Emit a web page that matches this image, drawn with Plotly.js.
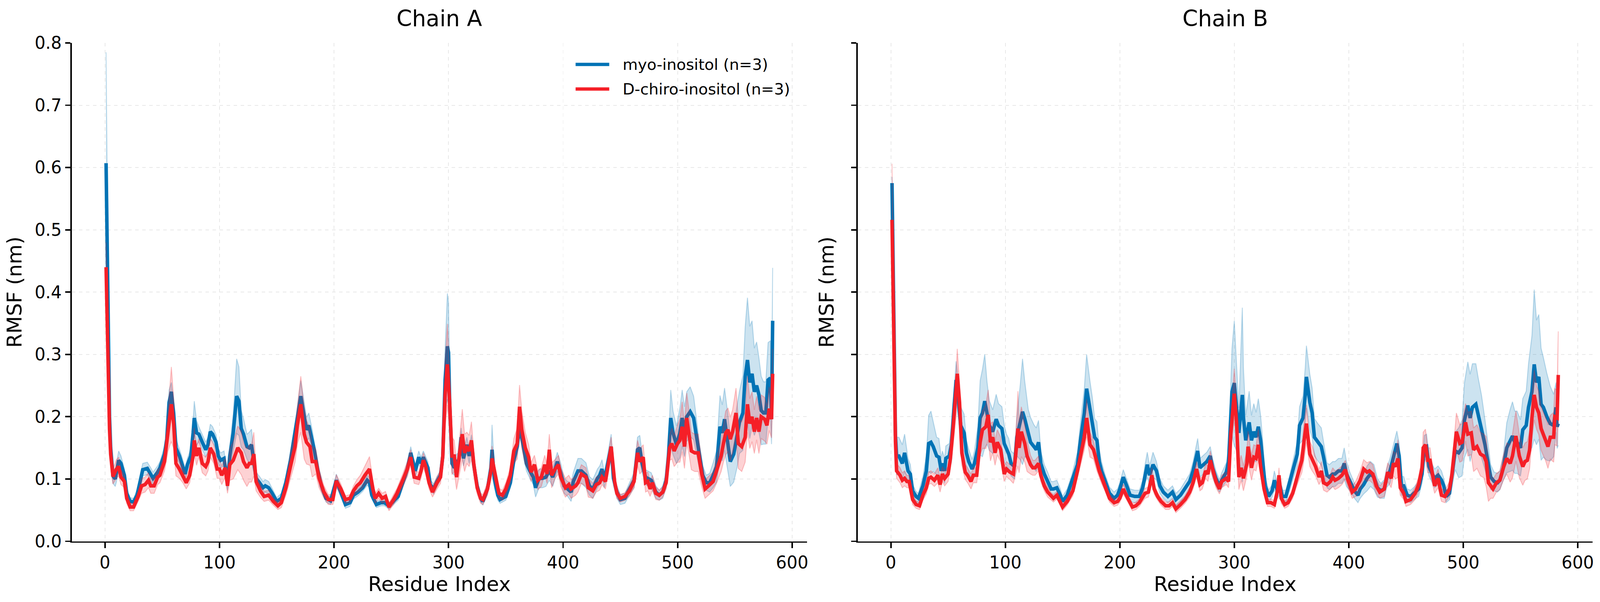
<!DOCTYPE html>
<html>
<head>
<meta charset="utf-8">
<script src="https://cdn.plot.ly/plotly-3.0.1.min.js"></script>
<style>
  html, body { margin: 0; padding: 0; background: #fff; overflow: hidden; }
  #chart { width: 100vw; height: 100vh; }
</style>
</head>
<body>
<div id="chart"></div>
<script>
// RMSF per residue, mean of 3 runs, with +/- spread

const residueTicks = [0, 100, 200, 300, 400, 500, 600];
const rmsfTicks = [0, 0.1, 0.2, 0.3, 0.4, 0.5, 0.6, 0.7, 0.8];

// ---- Chain A, myo-inositol
const aMyoX = [
    1,2,3,4,5,6,7,9,10,12,
    14,17,19,22,25,28,31,33,37,40,
    42,46,48,52,54,56,58,60,62,65,
    67,70,72,75,77,78,80,82,85,88,
    90,92,94,97,99,101,104,107,109,112,
    115,117,119,121,124,126,128,130,132,135,
    138,140,143,146,150,154,158,162,166,169,
    171,173,176,178,181,183,186,189,193,197,
    202,206,210,214,217,221,225,229,231,233,
    237,241,244,248,252,256,260,264,267,269,
    271,274,276,278,282,284,287,290,293,295,
    297,299,300,301,303,305,307,309,311,313,
    316,318,320,322,325,328,330,334,337,338,
    340,343,345,350,354,357,360,362,364,366,
    368,371,374,376,379,382,385,388,391,395,
    398,401,404,407,409,413,416,420,423,426,
    430,432,434,436,439,442,444,447,450,454,
    458,462,465,467,469,472,474,477,481,484,
    487,490,492,494,496,499,502,504,506,508,
    511,514,516,519,522,525,528,531,534,537,
    539,541,544,546,549,552,554,557,559,561,
    563,565,567,569,571,573,575,577,579,581,
    582,583
];
const aMyoY = [
    .607,.45,.30,.20,.15,.125,.105,.10,.11,.13,
    .125,.106,.077,.064,.063,.074,.098,.115,.117,.108,
    .101,.111,.118,.14,.164,.223,.24,.206,.15,.137,
    .125,.108,.123,.137,.174,.198,.174,.172,.159,.147,
    .155,.176,.172,.159,.137,.13,.133,.094,.137,.174,
    .233,.225,.181,.172,.152,.15,.155,.125,.101,.094,
    .086,.089,.086,.077,.064,.069,.094,.13,.172,.21,
    .233,.21,.179,.186,.164,.145,.113,.089,.069,.065,
    .098,.079,.059,.062,.074,.079,.086,.098,.094,.074,
    .059,.062,.062,.057,.064,.072,.094,.116,.142,.125,
    .113,.135,.125,.135,.118,.091,.084,.096,.106,.137,
    .259,.313,.303,.223,.125,.118,.128,.13,.167,.133,
    .155,.137,.159,.123,.089,.069,.064,.084,.118,.147,
    .101,.074,.067,.072,.094,.13,.152,.186,.167,.142,
    .125,.113,.103,.086,.101,.101,.103,.113,.103,.128,
    .11,.089,.084,.079,.096,.113,.113,.106,.089,.084,
    .101,.106,.116,.098,.125,.152,.101,.079,.067,.069,
    .084,.098,.147,.15,.125,.103,.101,.098,.079,.074,
    .079,.098,.137,.198,.174,.155,.174,.198,.176,.2,
    .208,.198,.174,.137,.106,.094,.094,.106,.12,.184,
    .174,.196,.157,.128,.14,.169,.191,.206,.264,.291,
    .255,.269,.24,.25,.235,.21,.206,.206,.259,.262,
    .196,.354
];
const aMyoSd = [
    .178,.12,.06,.03,.02,.015,.012,.012,.015,.015,
    .012,.01,.008,.006,.006,.008,.01,.01,.01,.01,
    .01,.01,.01,.012,.015,.02,.015,.015,.015,.012,
    .012,.01,.01,.012,.02,.027,.02,.012,.012,.012,
    .012,.012,.012,.012,.012,.012,.012,.012,.015,.03,
    .06,.055,.03,.025,.02,.025,.025,.015,.01,.01,
    .01,.01,.01,.008,.006,.008,.01,.012,.015,.02,
    .025,.025,.02,.02,.015,.012,.01,.008,.006,.006,
    .01,.008,.006,.006,.006,.006,.006,.008,.008,.006,
    .005,.005,.005,.005,.005,.006,.008,.01,.01,.01,
    .01,.01,.01,.01,.01,.008,.008,.008,.008,.01,
    .05,.085,.08,.04,.015,.012,.012,.012,.015,.012,
    .012,.012,.012,.01,.008,.006,.006,.008,.012,.04,
    .015,.008,.006,.006,.008,.01,.012,.015,.012,.012,
    .012,.012,.012,.015,.015,.015,.015,.015,.015,.015,
    .015,.012,.012,.015,.015,.02,.02,.02,.015,.015,
    .015,.015,.015,.012,.015,.02,.012,.01,.008,.008,
    .01,.012,.02,.02,.015,.012,.012,.012,.01,.008,
    .01,.012,.02,.045,.035,.03,.04,.045,.04,.04,
    .04,.035,.03,.02,.015,.012,.015,.02,.025,.05,
    .045,.05,.045,.04,.045,.05,.05,.06,.08,.1,
    .09,.085,.07,.07,.06,.055,.05,.05,.06,.06,
    .04,.085
];

// ---- Chain A, D-chiro-inositol
const aChiroX = [
    1,2,3,4,5,6,7,10,12,14,
    17,19,22,25,29,32,35,38,40,43,
    46,48,52,55,57,58,60,62,65,68,
    71,74,77,78,80,82,85,88,90,92,
    95,98,100,102,105,107,109,112,116,119,
    121,124,126,128,130,132,136,139,143,147,
    151,154,158,162,166,168,171,174,176,179,
    181,184,187,191,195,199,202,206,210,214,
    217,220,223,227,231,234,236,239,242,245,
    248,252,255,260,264,267,270,274,276,278,
    280,283,286,290,293,295,297,299,301,303,
    305,307,310,312,314,316,318,320,322,325,
    328,330,334,337,338,341,344,347,350,354,
    357,360,362,364,367,370,372,375,378,381,
    384,386,388,390,393,396,398,402,405,407,
    411,413,416,420,422,426,429,432,434,437,
    440,442,445,447,450,454,458,462,465,467,
    470,472,474,476,478,481,484,487,490,493,
    495,497,500,502,504,506,508,510,512,515,
    518,521,524,527,531,534,538,540,542,544,
    546,548,551,553,556,559,561,563,565,567,
    569,571,573,576,578,580,582,583
];
const aChiroY = [
    .44,.35,.25,.18,.14,.115,.104,.116,.12,.103,
    .096,.069,.055,.055,.072,.089,.091,.098,.089,.089,
    .103,.106,.128,.174,.206,.22,.189,.125,.116,.106,
    .094,.106,.137,.162,.137,.15,.125,.12,.128,.15,
    .14,.116,.116,.106,.118,.089,.123,.13,.15,.142,
    .128,.118,.125,.125,.14,.096,.08,.072,.074,.064,
    .057,.062,.086,.12,.152,.186,.22,.172,.159,.152,
    .128,.128,.101,.08,.067,.067,.097,.084,.067,.069,
    .081,.089,.094,.106,.116,.084,.069,.077,.069,.072,
    .055,.067,.077,.098,.116,.135,.103,.101,.113,.13,
    .12,.094,.079,.094,.103,.137,.235,.284,.223,.137,
    .137,.103,.142,.172,.142,.15,.145,.162,.125,.086,
    .069,.067,.084,.113,.133,.101,.077,.074,.084,.106,
    .145,.157,.216,.179,.15,.135,.111,.123,.098,.103,
    .123,.108,.147,.106,.116,.123,.103,.086,.091,.084,
    .089,.094,.108,.103,.086,.081,.091,.094,.103,.096,
    .13,.152,.096,.077,.069,.072,.081,.096,.142,.128,
    .135,.094,.096,.084,.094,.077,.074,.079,.094,.15,
    .157,.145,.157,.162,.184,.152,.198,.174,.145,.142,
    .142,.108,.084,.089,.096,.113,.137,.157,.174,.179,
    .164,.176,.206,.157,.152,.167,.22,.189,.2,.176,
    .198,.176,.2,.196,.186,.213,.196,.269
];
const aChiroSd = [
    .04,.03,.02,.015,.012,.012,.012,.015,.015,.012,
    .01,.008,.006,.006,.008,.012,.012,.012,.012,.012,
    .012,.012,.015,.03,.05,.06,.04,.02,.015,.012,
    .01,.012,.015,.02,.015,.015,.015,.015,.015,.015,
    .015,.015,.015,.015,.015,.012,.025,.03,.035,.035,
    .03,.03,.03,.03,.035,.015,.01,.008,.008,.006,
    .006,.008,.012,.02,.025,.03,.045,.04,.035,.03,
    .025,.02,.015,.01,.008,.008,.01,.008,.006,.006,
    .008,.01,.012,.015,.02,.012,.008,.008,.008,.008,
    .006,.008,.008,.01,.012,.012,.01,.01,.012,.012,
    .012,.01,.008,.01,.01,.015,.05,.065,.05,.03,
    .025,.02,.03,.04,.03,.025,.025,.03,.02,.01,
    .008,.008,.01,.015,.02,.012,.008,.008,.01,.012,
    .02,.025,.035,.03,.025,.02,.015,.015,.015,.015,
    .015,.015,.025,.02,.015,.015,.015,.015,.015,.015,
    .015,.015,.015,.015,.015,.012,.012,.012,.012,.012,
    .015,.015,.012,.008,.006,.006,.008,.01,.02,.02,
    .02,.015,.015,.012,.012,.01,.008,.008,.01,.02,
    .025,.025,.03,.035,.04,.035,.04,.035,.03,.03,
    .03,.02,.015,.015,.015,.02,.025,.03,.035,.035,
    .035,.035,.04,.04,.04,.04,.045,.04,.04,.035,
    .035,.035,.035,.035,.03,.035,.03,.04
];

// ---- Chain B, myo-inositol
const bMyoX = [
    1,2,3,4,5,7,10,12,15,17,
    19,22,24,28,31,33,35,37,40,42,
    44,45,47,48,51,53,55,57,59,61,
    64,66,68,71,73,76,78,80,82,84,
    86,89,92,94,97,99,101,103,105,108,
    110,113,115,117,120,122,125,127,129,131,
    134,137,140,142,145,148,150,154,158,163,
    166,169,171,174,176,178,180,182,184,187,
    191,195,198,200,203,206,209,213,217,220,
    222,224,226,229,232,235,238,242,246,249,
    253,257,261,264,268,270,273,276,279,281,
    284,287,289,293,295,298,300,302,304,307,
    308,310,313,315,317,319,321,323,325,327,
    330,333,335,338,340,342,345,348,351,355,
    357,360,362,363,366,368,370,373,376,378,
    381,383,386,388,391,394,396,398,401,405,
    408,410,413,416,419,422,425,428,431,433,
    436,439,442,444,446,448,451,454,457,461,
    464,466,468,470,473,475,478,481,483,485,
    488,490,493,496,499,501,504,506,508,511,
    513,516,519,522,524,527,530,532,535,538,
    541,543,545,547,550,552,555,557,560,562,
    564,566,568,570,573,576,579,581,582,583
];
const bMyoY = [
    .575,.42,.27,.17,.137,.137,.125,.142,.113,.108,
    .081,.072,.069,.089,.113,.157,.159,.152,.137,.135,
    .113,.125,.113,.133,.137,.157,.211,.259,.227,.186,
    .174,.142,.128,.116,.125,.15,.198,.206,.225,.206,
    .186,.176,.196,.186,.181,.157,.147,.14,.125,.12,
    .167,.191,.208,.196,.172,.159,.152,.147,.159,.125,
    .108,.096,.084,.084,.086,.074,.064,.074,.094,.123,
    .167,.206,.245,.211,.196,.167,.162,.128,.113,.096,
    .077,.069,.074,.084,.103,.089,.074,.072,.072,.086,
    .108,.123,.106,.123,.113,.089,.079,.072,.079,.067,
    .074,.084,.096,.113,.145,.118,.123,.128,.137,.118,
    .101,.089,.098,.111,.128,.24,.254,.215,.174,.235,
    .198,.162,.191,.162,.176,.167,.184,.162,.128,.089,
    .072,.081,.098,.079,.089,.072,.072,.091,.113,.14,
    .186,.198,.235,.264,.223,.206,.167,.159,.152,.135,
    .106,.103,.108,.108,.113,.113,.125,.108,.096,.081,
    .074,.084,.091,.101,.108,.103,.086,.081,.084,.101,
    .113,.135,.157,.137,.089,.089,.074,.072,.077,.084,
    .108,.15,.152,.12,.108,.101,.106,.098,.089,.072,
    .077,.101,.145,.142,.15,.194,.218,.198,.215,.22,
    .203,.184,.155,.123,.103,.096,.094,.098,.118,.15,
    .162,.169,.159,.159,.15,.179,.186,.215,.24,.284,
    .255,.264,.22,.215,.2,.189,.186,.215,.184,.189
];
const bMyoSd = [
    .01,.01,.01,.02,.03,.03,.03,.03,.02,.015,
    .01,.008,.008,.015,.025,.045,.05,.04,.03,.03,
    .02,.02,.02,.02,.02,.03,.03,.03,.03,.03,
    .03,.02,.02,.015,.02,.035,.06,.07,.075,.05,
    .04,.035,.04,.035,.035,.03,.025,.025,.02,.02,
    .03,.06,.085,.06,.04,.04,.035,.035,.035,.02,
    .015,.015,.012,.012,.012,.01,.008,.01,.012,.02,
    .03,.04,.055,.045,.035,.03,.03,.02,.015,.012,
    .01,.01,.01,.01,.012,.01,.01,.01,.01,.012,
    .015,.02,.015,.02,.015,.012,.01,.01,.01,.01,
    .01,.012,.012,.015,.02,.015,.015,.015,.015,.015,
    .012,.01,.012,.015,.02,.07,.1,.07,.04,.14,
    .08,.04,.05,.04,.045,.04,.045,.04,.03,.015,
    .01,.01,.015,.01,.012,.01,.01,.012,.015,.02,
    .03,.035,.045,.05,.045,.04,.03,.03,.03,.025,
    .02,.02,.02,.02,.02,.02,.025,.02,.015,.012,
    .012,.015,.015,.02,.02,.02,.015,.012,.015,.015,
    .02,.02,.02,.02,.015,.015,.01,.01,.01,.012,
    .015,.02,.02,.015,.015,.015,.015,.015,.012,.01,
    .01,.015,.03,.04,.045,.06,.07,.07,.07,.065,
    .06,.05,.04,.03,.02,.015,.015,.015,.02,.04,
    .05,.055,.05,.05,.045,.05,.055,.07,.09,.12,
    .1,.1,.09,.08,.07,.06,.05,.04,.035,.035
];

// ---- Chain B, D-chiro-inositol
const bChiroX = [
    1,2,3,4,5,8,10,12,14,16,
    19,22,25,28,31,33,35,38,41,43,
    45,47,50,52,54,57,58,60,62,65,
    67,70,72,75,78,80,83,85,87,89,
    91,93,96,99,101,104,107,109,111,112,
    114,117,119,122,124,126,129,131,134,137,
    140,142,145,148,150,154,159,163,166,169,
    171,174,177,180,182,184,187,191,195,198,
    200,203,207,211,214,217,222,225,228,230,
    233,236,240,243,246,249,253,257,261,264,
    267,270,272,275,277,279,281,284,287,289,
    293,295,297,300,302,304,306,308,311,312,
    315,317,319,321,323,326,329,332,335,338,
    339,341,344,347,351,354,357,359,361,363,
    366,368,371,374,376,378,381,384,386,388,
    391,394,397,399,403,406,410,413,416,418,
    421,424,427,431,434,437,439,441,443,445,
    448,450,454,458,461,464,465,467,469,471,
    473,475,478,481,484,488,490,492,494,497,
    499,502,504,507,509,512,515,518,520,522,
    524,526,529,532,535,538,541,543,546,549,
    552,554,556,558,560,562,564,566,568,570,
    572,574,576,579,580,582,583
];
const bChiroY = [
    .516,.38,.25,.16,.113,.106,.098,.101,.096,.096,
    .067,.059,.057,.074,.086,.101,.103,.098,.106,.091,
    .108,.101,.108,.133,.174,.235,.269,.223,.142,.111,
    .106,.096,.106,.106,.159,.179,.184,.203,.159,.167,
    .142,.159,.147,.108,.116,.111,.108,.137,.181,.15,
    .176,.157,.137,.123,.118,.118,.125,.106,.089,.079,
    .072,.069,.074,.064,.055,.064,.081,.113,.14,.167,
    .198,.155,.147,.125,.113,.103,.089,.069,.062,.064,
    .069,.084,.069,.055,.057,.062,.077,.079,.106,.084,
    .072,.064,.057,.057,.062,.052,.059,.067,.079,.094,
    .116,.091,.094,.113,.108,.13,.116,.096,.084,.096,
    .101,.096,.174,.237,.191,.103,.118,.101,.125,.152,
    .118,.135,.133,.155,.12,.084,.062,.062,.059,.084,
    .106,.069,.059,.062,.077,.096,.116,.13,.162,.189,
    .14,.133,.12,.103,.113,.094,.091,.096,.103,.098,
    .101,.106,.115,.1,.079,.084,.098,.116,.111,.113,
    .108,.089,.079,.084,.111,.101,.125,.12,.133,.086,
    .077,.064,.067,.077,.091,.118,.15,.155,.13,.13,
    .108,.089,.101,.074,.072,.084,.106,.137,.176,.157,
    .159,.191,.172,.174,.147,.152,.14,.137,.128,.094,
    .089,.084,.094,.098,.118,.133,.125,.137,.169,.137,
    .12,.128,.13,.147,.198,.235,.215,.206,.181,.172,
    .164,.152,.167,.167,.2,.198,.267
];
const bChiroSd = [
    .09,.06,.04,.02,.012,.012,.012,.012,.01,.01,
    .008,.006,.006,.008,.01,.01,.01,.01,.012,.012,
    .012,.012,.012,.015,.025,.035,.04,.03,.02,.012,
    .012,.012,.012,.012,.02,.03,.035,.04,.03,.025,
    .02,.02,.02,.012,.012,.012,.015,.03,.06,.04,
    .04,.03,.025,.015,.012,.012,.012,.01,.008,.008,
    .006,.006,.006,.006,.006,.006,.008,.01,.015,.02,
    .03,.02,.015,.012,.01,.01,.008,.006,.006,.006,
    .006,.008,.006,.006,.006,.006,.008,.008,.012,.008,
    .006,.006,.006,.006,.006,.006,.006,.006,.008,.01,
    .012,.01,.01,.012,.012,.015,.012,.01,.008,.01,
    .01,.01,.025,.04,.03,.02,.02,.02,.02,.025,
    .02,.02,.02,.025,.015,.01,.006,.006,.006,.01,
    .012,.008,.006,.006,.008,.01,.015,.02,.03,.03,
    .02,.02,.015,.012,.015,.012,.012,.012,.015,.015,
    .015,.015,.015,.012,.01,.012,.015,.015,.015,.015,
    .015,.012,.01,.012,.015,.015,.02,.02,.03,.012,
    .01,.008,.008,.01,.012,.015,.025,.025,.02,.02,
    .015,.012,.015,.01,.01,.012,.015,.025,.03,.03,
    .03,.03,.035,.035,.035,.035,.035,.035,.04,.03,
    .02,.015,.015,.015,.02,.025,.03,.035,.04,.035,
    .03,.03,.03,.03,.035,.04,.035,.035,.035,.035,
    .035,.035,.035,.04,.045,.045,.07
];

const myoColor = '#0173B5';
const chiroColor = '#F51F27';
const myoBand = 'rgba(1,115,181,0.2)';
const myoEdge = 'rgba(1,115,181,0.25)';
const chiroBand = 'rgba(245,31,39,0.2)';
const chiroEdge = 'rgba(245,31,39,0.25)';

// reference size; the page follows the real window and scales pixel sizes to it
const REF_W = 4328, REF_H = 1542;
const W = window.innerWidth || REF_W;
const H = window.innerHeight || REF_H;
const S = W / REF_W;
const px = v => v * S;
const fontFam = '"DejaVu Sans", "Liberation Sans", sans-serif';

function seriesTraces(x, y, sd, color, band, edge, xa, ya) {
    if (x.length !== y.length || x.length !== sd.length) {
        console.log('length mismatch', x.length, y.length, sd.length);
    }
    let lower = y.map((v, i) => Math.max(v - sd[i], 0));
    let upper = y.map((v, i) => v + sd[i]);
    return [
        { x: x, y: lower, xaxis: xa, yaxis: ya, type: 'scatter', mode: 'lines',
          line: { color: edge, width: px(2.5) }, hoverinfo: 'skip', showlegend: false },
        { x: x, y: upper, xaxis: xa, yaxis: ya, type: 'scatter', mode: 'lines',
          fill: 'tonexty', fillcolor: band,
          line: { color: edge, width: px(2.5) }, hoverinfo: 'skip', showlegend: false },
        { x: x, y: y, xaxis: xa, yaxis: ya, type: 'scatter', mode: 'lines',
          line: { color: color, width: px(9.5) }, showlegend: false }
    ];
}

let data = [].concat(
    seriesTraces(aMyoX, aMyoY, aMyoSd, myoColor, myoBand, myoEdge, 'x', 'y'),
    seriesTraces(aChiroX, aChiroY, aChiroSd, chiroColor, chiroBand, chiroEdge, 'x', 'y'),
    seriesTraces(bMyoX, bMyoY, bMyoSd, myoColor, myoBand, myoEdge, 'x2', 'y2'),
    seriesTraces(bChiroX, bChiroY, bChiroSd, chiroColor, chiroBand, chiroEdge, 'x2', 'y2')
);

// plot boxes in reference pixels
const boxA = [194, 2183];
const boxB = [2320, 4308];
const plotTop = 110, plotBottom = 1386.5;

function xAxis(box, anchor) {
    return {
        domain: [box[0] / REF_W, box[1] / REF_W],
        anchor: anchor,
        range: [-29, 613],
        tickvals: residueTicks,
        ticks: 'outside', ticklen: px(14), tickwidth: px(4), tickcolor: '#000',
        showline: true, linewidth: px(4), linecolor: '#000',
        showgrid: true, gridcolor: '#e8e8e8', gridwidth: px(2), griddash: 'dash',
        zeroline: false,
        tickfont: { family: fontFam, size: px(46), color: '#000' },
        title: { text: 'Residue Index', standoff: px(14),
                 font: { family: fontFam, size: px(55), color: '#000' } }
    };
}

function yAxis(anchor, labels) {
    return {
        domain: [1 - plotBottom / REF_H, 1 - plotTop / REF_H],
        anchor: anchor,
        range: [0, 0.8],
        tickvals: rmsfTicks,
        tickformat: '.1f',
        showticklabels: labels,
        ticks: 'outside', ticklen: px(14), tickwidth: px(4), tickcolor: '#000',
        showline: true, linewidth: px(4), linecolor: '#000',
        showgrid: true, gridcolor: '#e8e8e8', gridwidth: px(2), griddash: 'dash',
        zeroline: false,
        tickfont: { family: fontFam, size: px(46), color: '#000' },
        title: { text: 'RMSF (nm)', standoff: px(labels ? 18 : 30),
                 font: { family: fontFam, size: px(55), color: '#000' } }
    };
}

// legend drawn by hand so the line samples get the reference length
const legendItems = [
    { label: 'myo-inositol (n=3)', color: myoColor, py: 165 },
    { label: 'D-chiro-inositol (n=3)', color: chiroColor, py: 228 }
];
let shapes = legendItems.map(it => ({
    type: 'line', xref: 'paper', yref: 'paper',
    x0: 1557 / REF_W, x1: 1648 / REF_W, y0: 1 - it.py / REF_H, y1: 1 - it.py / REF_H,
    line: { color: it.color, width: px(9) }
}));
let annotations = legendItems.map(it => ({
    xref: 'paper', yref: 'paper', x: 1682 / REF_W, y: 1 - it.py / REF_H,
    xanchor: 'left', yanchor: 'middle', showarrow: false,
    text: it.label, font: { family: fontFam, size: px(42), color: '#000' }
}));
[['Chain A', boxA], ['Chain B', boxB]].forEach(function (t) {
    annotations.push({
        xref: 'paper', yref: 'paper',
        x: (t[1][0] + t[1][1]) / 2 / REF_W, y: 1 - 47 / REF_H,
        xanchor: 'center', yanchor: 'middle', showarrow: false,
        text: t[0], font: { family: fontFam, size: px(60), color: '#000' }
    });
});

let layout = {
    width: W, height: H,
    margin: { l: 0, r: 0, t: 0, b: 0 },
    paper_bgcolor: '#fff', plot_bgcolor: '#fff',
    showlegend: false,
    xaxis: xAxis(boxA, 'y'),
    yaxis: yAxis('x', true),
    xaxis2: xAxis(boxB, 'y2'),
    yaxis2: Object.assign(yAxis('x2', false), { matches: 'y' }),
    shapes: shapes,
    annotations: annotations
};

Plotly.newPlot('chart', data, layout, { staticPlot: true });
</script>
</body>
</html>
